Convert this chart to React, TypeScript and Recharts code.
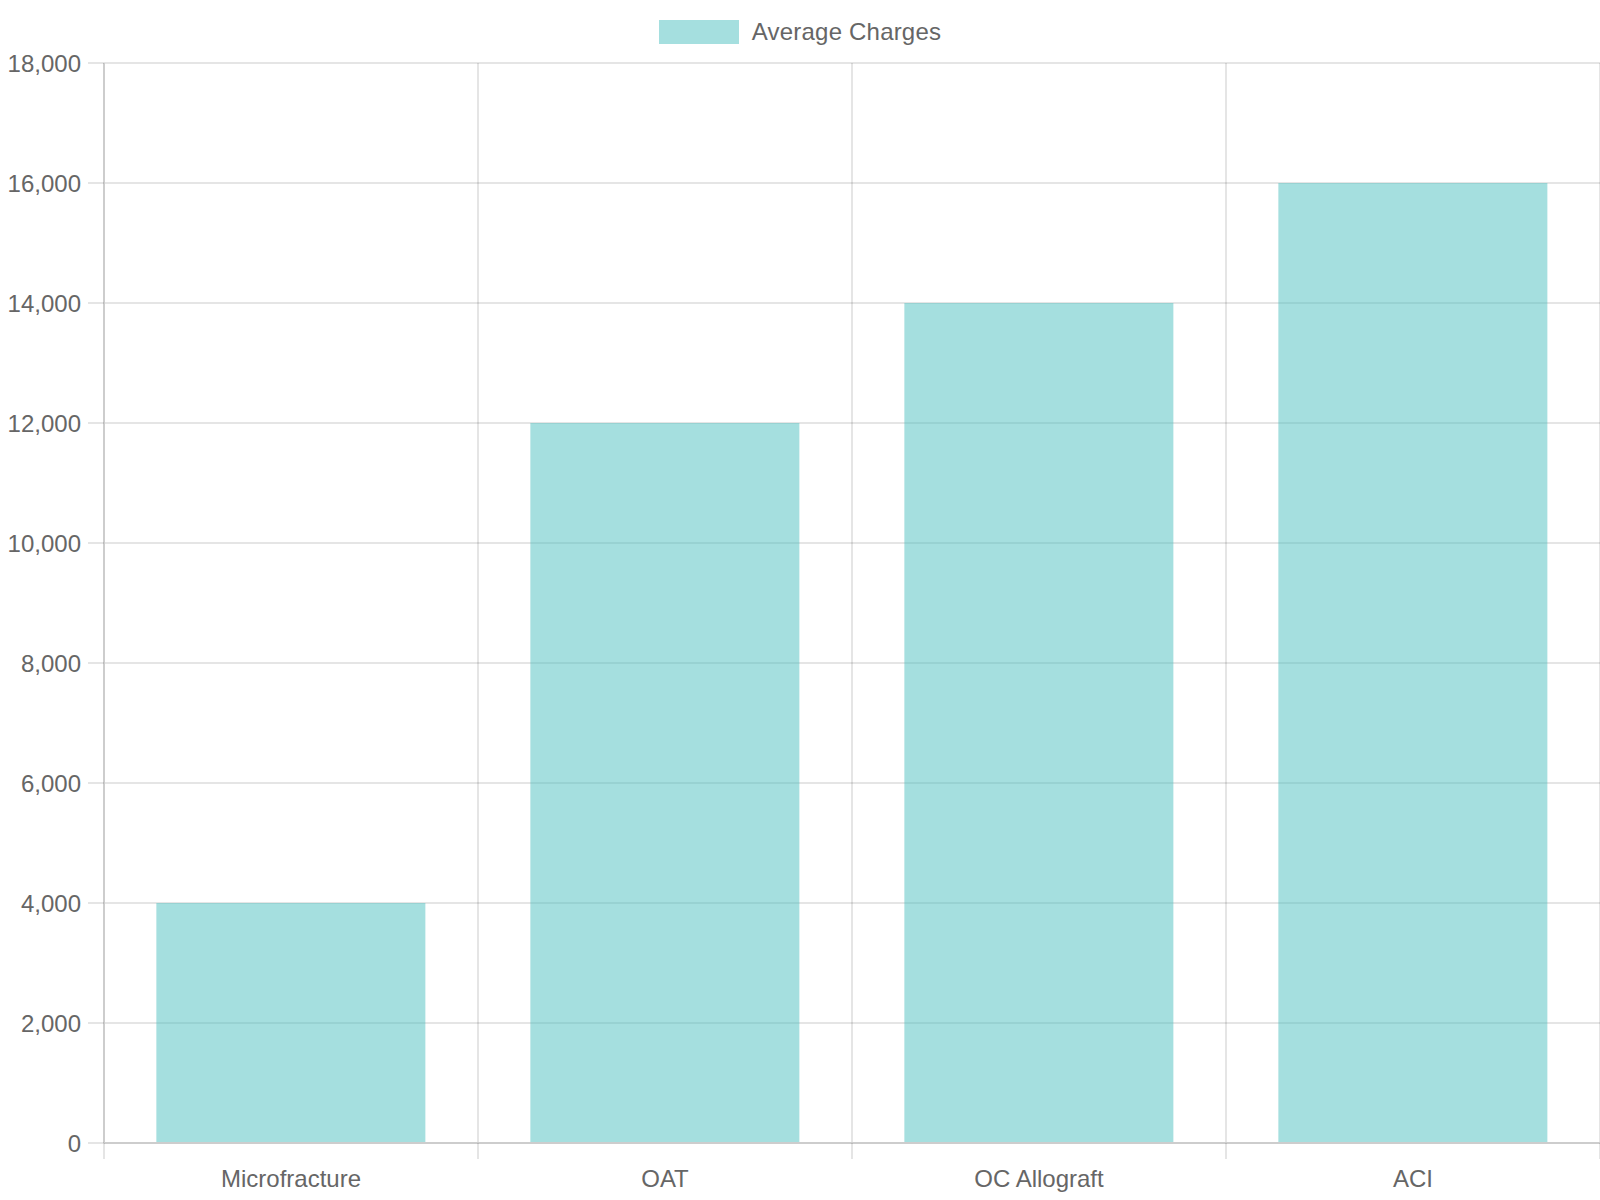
import React from 'react';
import { BarChart, Bar, XAxis, YAxis, CartesianGrid, Legend } from 'recharts';

const categories = ['Microfracture', 'OAT', 'OC Allograft', 'ACI'];
const averageCharges = [4000, 12000, 14000, 16000];
const yTicks = [0, 2000, 4000, 6000, 8000, 10000, 12000, 14000, 16000, 18000];
const boundaryTicks = [0, 1, 2, 3, 4];
const seriesName = 'Average Charges';

const data = categories.map((c, i) => ({ category: c, idx: i, value: averageCharges[i] }));

const FONT = '"Liberation Sans", Arial, Helvetica, sans-serif';
const TEXT = '#666666';
const GRID = 'rgba(0,0,0,0.1)';
const AXIS = '#cdcdcd';
const FILL = 'rgba(75,192,192,0.5)';

const fmt = (v: number) => v.toLocaleString('en-US');

const EmptyTick = () => <g />;

const LegendContent = () => (
  <div
    style={{
      height: 63,
      boxSizing: 'border-box',
      paddingTop: 20,
      display: 'flex',
      justifyContent: 'center',
      alignItems: 'flex-start',
      fontFamily: FONT,
    }}
  >
    <div style={{ display: 'flex', alignItems: 'center' }}>
      <span style={{ display: 'inline-block', width: 80, height: 24, background: FILL }} />
      <span style={{ marginLeft: 13, fontSize: 24, lineHeight: '24px', color: TEXT, letterSpacing: '0.2px' }}>
        {seriesName}
      </span>
    </div>
  </div>
);

export default function App() {
  return (
    <div style={{ position: 'absolute', left: 0, top: 0, width: 1600, height: 1200, background: '#fff' }}>
      <BarChart
        width={1600}
        height={1200}
        data={data}
        margin={{ top: 0, right: 0, bottom: 0, left: 0 }}
        barCategoryGap="14%"
      >
        <Legend verticalAlign="top" align="center" content={<LegendContent />} />
        <CartesianGrid
          stroke={GRID}
          strokeWidth={2}
          verticalCoordinatesGenerator={({ offset }: any) =>
            boundaryTicks.map((b) => offset.left + (b * offset.width) / categories.length)
          }
        />
        <XAxis
          xAxisId="b"
          dataKey="idx"
          type="number"
          domain={[0, categories.length]}
          ticks={boundaryTicks}
          allowDataOverflow
          interval={0}
          height={1}
          stroke={AXIS}
          tick={<EmptyTick />}
          tickSize={16}
          tickLine={{ stroke: GRID, strokeWidth: 2 }}
          axisLine={{ stroke: AXIS, strokeWidth: 2 }}
        />
        <XAxis
          xAxisId="cat"
          dataKey="category"
          height={56}
          axisLine={false}
          tickLine={false}
          tickSize={16}
          tickMargin={10}
          interval={0}
          tick={{ fill: TEXT, fontSize: 24, fontFamily: FONT }}
        />
        <YAxis
          width={104}
          domain={[0, 18000]}
          ticks={yTicks}
          interval={0}
          stroke={AXIS}
          tickSize={16}
          tickMargin={7}
          tickFormatter={fmt}
          tickLine={{ stroke: GRID, strokeWidth: 2 }}
          axisLine={{ stroke: AXIS, strokeWidth: 2 }}
          tick={{ fill: TEXT, fontSize: 24, fontFamily: FONT }}
        />
        <Bar xAxisId="cat" dataKey="value" name={seriesName} fill={FILL} isAnimationActive={false} />
      </BarChart>
    </div>
  );
}
